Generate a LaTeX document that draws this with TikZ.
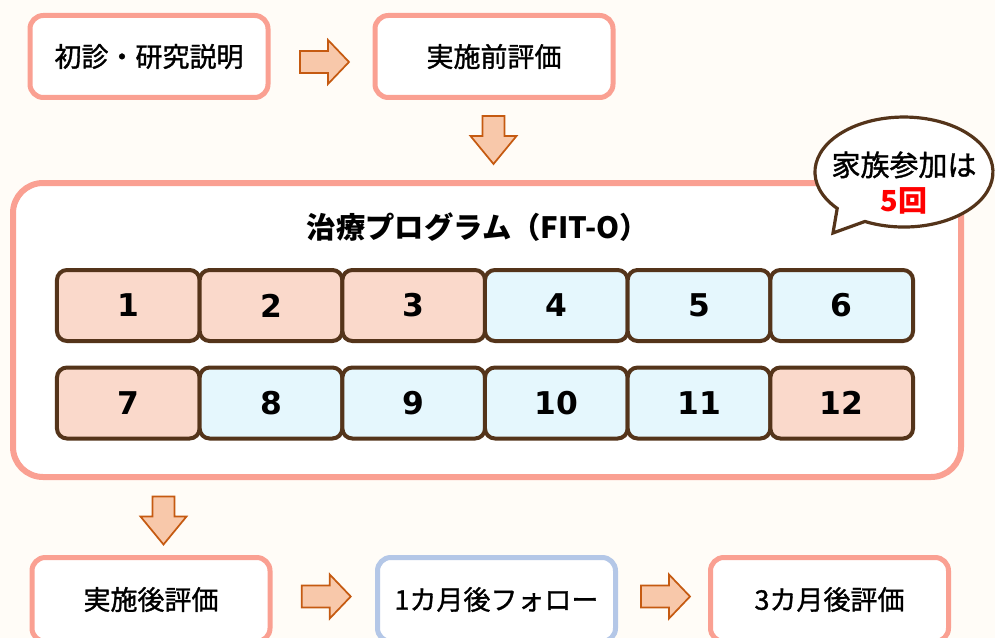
\documentclass[tikz,border=0pt]{standalone}
\usepackage{fontspec}
\newfontfamily\jp{Noto Sans CJK JP}
\newfontfamily\jpm{Noto Sans CJK JP}[FakeBold=1.2]
\newfontfamily\numfont{DejaVu Sans}
\usetikzlibrary{calc}
\definecolor{bgcol}{RGB}{255,252,247}
\definecolor{salmon}{RGB}{250,160,146}
\definecolor{bluebd}{RGB}{180,199,231}
\definecolor{arrfill}{RGB}{248,200,170}
\definecolor{arrline}{RGB}{197,90,17}
\definecolor{cellbd}{RGB}{84,52,26}
\definecolor{pinkfill}{RGB}{250,217,203}
\definecolor{bluefill}{RGB}{229,247,253}
\definecolor{redtxt}{RGB}{255,0,0}
\tikzset{
  stepbox/.style={draw=salmon, line width=3.75pt, fill=white, rounded corners=10pt,
    minimum width=178.5pt, minimum height=61.5pt, inner sep=0pt,
    font=\jpm\fontsize{20.25pt}{24pt}\selectfont},
  bluebox/.style={stepbox, draw=bluebd},
  progbox/.style={draw=salmon, line width=4.5pt, fill=white, rounded corners=22.5pt,
    minimum width=711pt, minimum height=220.5pt, inner sep=0pt},
  cellbox/.style={draw=cellbd, line width=3pt, rounded corners=7.5pt,
    minimum width=107pt, minimum height=53.25pt, inner sep=0pt,
    font=\numfont\bfseries\fontsize{23.5pt}{28pt}\selectfont},
  pinkcell/.style={cellbox, fill=pinkfill},
  bluecell/.style={cellbox, fill=bluefill},
  blockarr/.style={draw=arrline, line width=1.3pt, fill=arrfill, line join=miter},
}
\newcommand{\rarr}[1]{\draw[blockarr] (#1) ++(-24.5,-11) -- ++(28,0) -- ++(0,-11) -- ++(21,22) -- ++(-21,22) -- ++(0,-11) -- ++(-28,0) -- cycle;}
\newcommand{\darr}[1]{\draw[blockarr] (#1) ++(-11,-24) -- ++(0,20) -- ++(-12,0) -- ++(23,28) -- ++(23,-28) -- ++(-12,0) -- ++(0,-20) -- cycle;}
\begin{document}
\begin{tikzpicture}[x=0.75pt,y=-0.75pt]
\fill[bgcol] (0,0) rectangle (995,638);
\useasboundingbox (0,0) rectangle (995,638);

% top boxes
\node[stepbox] (b1) at (149,56.5) {初診・研究説明};
\node[stepbox] (b2) at (494,56.5) {実施前評価};

% program box
\node[progbox] (prog) at (487,330) {};
\node[font=\jp\bfseries\fontsize{22pt}{26pt}\selectfont] (title) at (478,227) {治療プログラム（FIT-O）};

% cells row 1
\node[pinkcell] (c1) at (128.3,305.5) {1};
\node[pinkcell] (c2) at (271,305.5) {2};
\node[pinkcell] (c3) at (413.7,305.5) {3};
\node[bluecell] (c4) at (556.3,305.5) {4};
\node[bluecell] (c5) at (699,305.5) {5};
\node[bluecell] (c6) at (841.7,305.5) {6};
% cells row 2
\node[pinkcell] (c7) at (128.3,403) {7};
\node[bluecell] (c8) at (271,403) {8};
\node[bluecell] (c9) at (413.7,403) {9};
\node[bluecell] (c10) at (556.3,403) {10};
\node[bluecell] (c11) at (699,403) {11};
\node[pinkcell] (c12) at (841.7,403) {12};

% bottom boxes
\node[stepbox, minimum height=63pt] (b3) at (151,599.5) {実施後評価};
\node[bluebox, minimum height=63pt] (b4) at (496.5,599.5) {1カ月後フォロー};
\node[stepbox, minimum height=63pt] (b5) at (829.5,599.5) {3カ月後評価};

% block arrows
\coordinate (a1) at ($(b1.east)!0.5!(b2.west)+(3,5.5)$);
\rarr{a1}
\coordinate (a2) at ($(b2.south)!0.5!(prog.north)+(3,0)$);
\darr{a2}
\coordinate (a3) at (163.5,520.5);
\darr{a3}
\coordinate (a4) at ($(b3.east)!0.5!(b4.west)+(2.5,-3)$);
\rarr{a4}
\coordinate (a5) at ($(b4.east)!0.5!(b5.west)+(2.5,-3)$);
\rarr{a5}

% speech bubble
\draw[draw=cellbd, line width=2.4pt, fill=white, line join=miter]
  (837.2,208.4) arc[start angle=138.6, end angle=476, x radius=89, y radius=55]
  -- (833,233) -- cycle;
\node[font=\jpm\fontsize{21.75pt}{27pt}\selectfont, align=center, inner sep=0pt] (bubbletxt) at (904,183)
  {家族参加は\\{\jp\bfseries\color{redtxt}5回}};
\end{tikzpicture}
\end{document}
